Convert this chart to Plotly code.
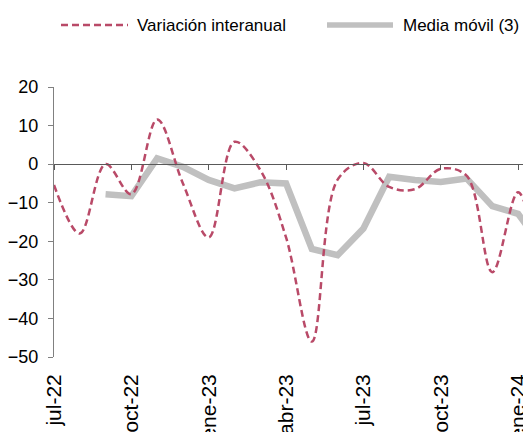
import plotly.graph_objects as go

# ---- data ----
months = ['jul-22', 'ago-22', 'sep-22', 'oct-22', 'nov-22', 'dic-22',
          'ene-23', 'feb-23', 'mar-23', 'abr-23', 'may-23', 'jun-23',
          'jul-23', 'ago-23', 'sep-23', 'oct-23', 'nov-23', 'dic-23',
          'ene-24', 'feb-24']
variacion_interanual = [-5.4, -18.0, 0.0, -7.8, 11.6, -5.0,
                        -19.0, 5.8, -1.5, -19.0, -46.0, -4.0,
                        0.3, -5.9, -6.5, -1.2, -3.0, -28.0,
                        -7.3, -36.0]
media_movil = [None, None, -7.8, -8.3, 1.5, -0.7,
               -4.1, -6.3, -4.7, -5.0, -22.0, -23.6,
               -16.7, -3.3, -4.1, -4.6, -3.7, -10.9,
               -12.9, -22.0]
tick_labels = months[0::3]
legend_names = ['Variación interanual', 'Media móvil (3)']

RED = '#B94A68'
GRAY = '#C0C0C0'
FONT = 'Liberation Sans, Arial, sans-serif'

# the page body has an 8px margin; the figure is offset by it
OFF = 8
W, H = 531 - OFF, 432 - OFF
# plot area on screen: x 54..531, y 87..357
ML, MR, MT = 54 - OFF, 0, 87 - OFF
MB = H - (357 - OFF)
PW, PH = W - ML - MR, H - MT - MB


def px(xs):
    return (xs - OFF - ML) / PW


def py(ys):
    return (H - MB - (ys - OFF)) / PH


fig = go.Figure()
fig.add_trace(go.Scatter(x=months, y=media_movil, mode='lines',
                         name=legend_names[1],
                         line=dict(color=GRAY, width=6.5),
                         showlegend=False, connectgaps=False))
fig.add_trace(go.Scatter(x=months, y=variacion_interanual, mode='lines',
                         name=legend_names[0],
                         line=dict(color=RED, width=2.5, dash='7px,4px',
                                   shape='spline', smoothing=1.0),
                         showlegend=False))
# helper trace for the zero-line axis
fig.add_trace(go.Scatter(x=months, y=[None] * len(months), xaxis='x2',
                         showlegend=False, hoverinfo='skip'))

ymin, ymax = -50, 20

# custom legend
shapes = [
    dict(type='line', xref='paper', yref='paper', x0=px(61), x1=px(128),
         y0=py(25), y1=py(25), line=dict(color=RED, width=2.5, dash='7px,4px')),
    dict(type='line', xref='paper', yref='paper', x0=px(327), x1=px(393),
         y0=py(25), y1=py(25), line=dict(color=GRAY, width=5.5)),
]
annotations = [
    dict(xref='paper', yref='paper', x=px(135), y=py(25), text=legend_names[0],
         showarrow=False, xanchor='left', yanchor='middle',
         font=dict(family=FONT, size=17, color='#000000')),
    dict(xref='paper', yref='paper', x=px(401), y=py(25), text=legend_names[1],
         showarrow=False, xanchor='left', yanchor='middle',
         font=dict(family=FONT, size=17, color='#000000')),
]

fig.update_layout(
    width=W, height=H,
    margin=dict(l=ML, r=MR, t=MT, b=MB, pad=0, autoexpand=False),
    paper_bgcolor='white', plot_bgcolor='white',
    showlegend=False,
    shapes=shapes, annotations=annotations,
    xaxis=dict(type='category', categoryorder='array', categoryarray=months,
               range=[0, 18.5], tickmode='array', tickvals=tick_labels,
               ticktext=tick_labels, tickangle=-90, ticks='',
               showline=False, showgrid=False, zeroline=False,
               ticklabelstandoff=12, automargin=False,
               tickfont=dict(family=FONT, size=21, color='#000000')),
    xaxis2=dict(type='category', categoryorder='array', categoryarray=months,
                overlaying='x', anchor='free',
                position=(0 - ymin) / (ymax - ymin), side='bottom',
                range=[0, 18.5], tickmode='array', tickvals=tick_labels,
                showticklabels=False, ticks='outside', ticklen=5,
                tickcolor='#595959', tickwidth=1.3, automargin=False,
                showline=True, linecolor='#595959', linewidth=1.3,
                showgrid=False, zeroline=False),
    yaxis=dict(range=[ymin, ymax], tick0=0, dtick=10,
               showline=True, linecolor='#808080', linewidth=1.3,
               ticks='outside', ticklen=5, tickcolor='#808080', tickwidth=1.3,
               showgrid=False, zeroline=False, ticklabelstandoff=6,
               automargin=False,
               tickfont=dict(family=FONT, size=18, color='#000000')),
)

fig.write_html('out.html')
